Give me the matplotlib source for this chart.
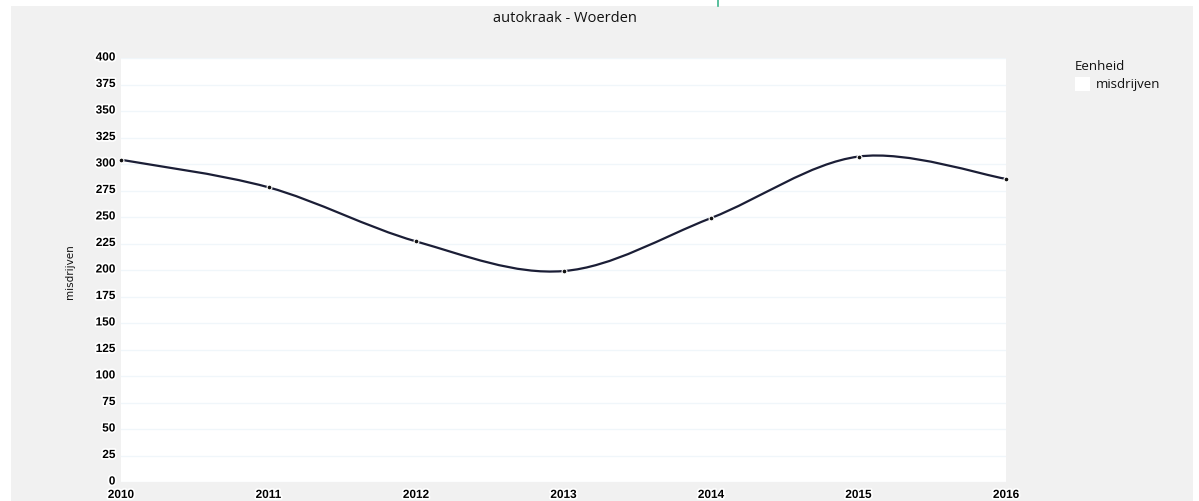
import matplotlib.pyplot as plt
import numpy as np
from matplotlib.path import Path
from matplotlib.patches import PathPatch, Rectangle
import matplotlib.patheffects as pe
import matplotlib.transforms as mtransforms

years = [2010, 2011, 2012, 2013, 2014, 2015, 2016]
misdrijven = [304, 278, 227, 199, 249, 307, 286]
y_ticks = list(range(0, 401, 25))
title = 'autokraak - Woerden'
legend_title = 'Eenheid'
series_name = 'misdrijven'

W, H = 1199, 502
fig = plt.figure(figsize=(W / 100, H / 100), dpi=100, facecolor='white')

# gray paper background, behind the axes
fig.patches.append(Rectangle((11 / W, 0), (1193 - 11) / W, (H - 7) / H,
                             transform=fig.transFigure, facecolor='#f1f1f1',
                             edgecolor='none', zorder=-5))
fig.lines.append(plt.Line2D([718 / W, 718 / W], [(H - 7) / H, 1],
                            transform=fig.transFigure, color='#3cb48c', lw=1.2))

ax = fig.add_axes([121 / W, 19 / H, (1006 - 121) / W, (483 - 59) / H])
ax.set_facecolor('white')
ax.set_xlim(years[0], years[-1])
ax.set_ylim(0, 400)
for s in ax.spines.values():
    s.set_visible(False)

ax.set_yticks(y_ticks)
ax.set_xticks(years)
ax.grid(axis='y', color='#f0f6fa', lw=1)
ax.grid(axis='x', visible=False)
ax.tick_params(length=0, pad=4)
halo = [pe.withStroke(linewidth=2.5, foreground='white')]
shift_up = mtransforms.ScaledTranslation(0, 2 / 100, fig.dpi_scale_trans)
for lab in ax.get_yticklabels():
    lab.set_fontfamily('Liberation Sans')
    lab.set_fontweight('bold')
    lab.set_fontsize(8.5)
    lab.set_path_effects(halo)
    lab.set_transform(lab.get_transform() + shift_up)
ax.tick_params(axis='x', pad=5)
for lab in ax.get_xticklabels():
    lab.set_fontfamily('Liberation Sans')
    lab.set_fontweight('bold')
    lab.set_fontsize(8.5)
    lab.set_path_effects(halo)

# smooth line (cardinal spline drawn as bezier segments in display space)
fig.canvas.draw()
pts = ax.transData.transform(np.column_stack([years, misdrijven]))
n = len(pts)
tens = 0.5
verts = [pts[0]]
codes = [Path.MOVETO]
for i in range(n - 1):
    p0 = pts[i - 1] if i > 0 else pts[i]
    p1, p2 = pts[i], pts[i + 1]
    p3 = pts[i + 2] if i + 2 < n else pts[i + 1]
    c1 = p1 + (p2 - p0) * tens / 3
    c2 = p2 - (p3 - p1) * tens / 3
    verts += [c1, c2, p2]
    codes += [Path.CURVE4] * 3
curve = PathPatch(Path(verts, codes), transform=None, facecolor='none',
                  edgecolor='#1b1e36', lw=1.6, zorder=3, clip_on=False)
ax.add_artist(curve)
ax.plot(years, misdrijven, 'o', ms=3.5, color='#111111', mec='white', mew=0.8,
        zorder=4, clip_on=False)

fig.text(565 / W, 1 - 19 / H, title, ha='center', va='center',
         fontsize=10.5, family='Open Sans', color='#111111')
fig.text(70 / W, 1 - 272 / H, series_name, ha='center', va='center',
         rotation=90, fontsize=7.5, family='Liberation Sans Narrow', color='#111111')

# legend
fig.text(1075 / W, 1 - 66 / H, legend_title, ha='left', va='center',
         fontsize=9.5, family='Open Sans', color='#111111')
fig.patches.append(Rectangle((1075 / W, 1 - 92 / H), 15 / W, 14 / H,
                             transform=fig.transFigure, facecolor='white',
                             edgecolor='none', zorder=2))
fig.text(1096 / W, 1 - 85 / H, series_name, ha='left', va='center',
         fontsize=9.5, family='Open Sans', color='#111111')

fig.savefig('out.png', dpi=100, facecolor='white')
